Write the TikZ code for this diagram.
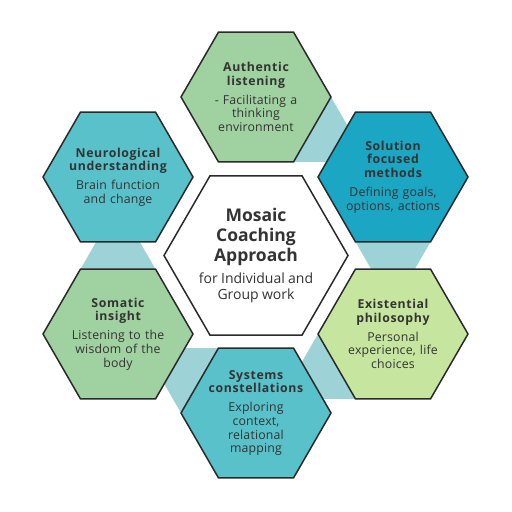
\documentclass[tikz,border=0pt]{standalone}
\usepackage{fontspec}
\setmainfont{Open Sans}
\newfontfamily\titlefont[LetterSpace=5]{Open Sans}
\newfontfamily\bodyfont[LetterSpace=1.5]{Open Sans}
\definecolor{hexborder}{HTML}{2A2A2A}
\definecolor{connteal}{HTML}{9DD3D6}
\definecolor{hgreen}{HTML}{A0D1A0}
\definecolor{hcyan}{HTML}{1BA6C4}
\definecolor{hlime}{HTML}{C6E6A0}
\definecolor{hteal}{HTML}{58C1CA}
\definecolor{txtcol}{HTML}{333333}
\newcommand\hexat[3]{\draw[hexline, fill=#3] (#1) +(0:#2) -- +(60:#2) -- +(120:#2) -- +(180:#2) -- +(240:#2) -- +(300:#2) -- cycle;}
\newcommand\hextitle[1]{{\titlefont\bfseries #1}}
\begin{document}
\begin{tikzpicture}[x=1pt,y=1pt,
  hexline/.style={draw=hexborder, line width=1.5pt, line join=miter},
  conn/.style={fill=connteal},
  txt/.style={text=txtcol, align=center, text width=130pt, font=\bodyfont\fontsize{12.3}{13.6}\selectfont, inner sep=0pt}]
\useasboundingbox (0,0) rectangle (512,512);
\coordinate (top) at (256,415);
\coordinate (ur) at (393,335);
\coordinate (lr) at (393,178);
\coordinate (bot) at (256,99);
\coordinate (ll) at (118,178);
\coordinate (ul) at (118,335);
\coordinate (cen) at (256,256.5);
% connectors
\fill[conn] (top) +(300:75) -- +(0:75) -- +(330:129.9) -- cycle;
\fill[conn] (ur) +(240:75) -- +(300:75) -- +(270:129.9) -- cycle;
\fill[conn] (lr) +(180:75) -- +(240:75) -- +(210:129.9) -- cycle;
\fill[conn] (bot) +(120:75) -- +(180:75) -- +(150:129.9) -- cycle;
\fill[conn] (ll) +(60:75) -- +(120:75) -- +(90:129.9) -- cycle;
% hexagons
\hexat{top}{75}{hgreen}
\hexat{ur}{75}{hcyan}
\hexat{lr}{75}{hlime}
\hexat{bot}{75}{hteal}
\hexat{ll}{75}{hgreen}
\hexat{ul}{75}{hteal}
\hexat{cen}{92}{white}
% texts
\node[txt] (ttop) at (top) {\hextitle{Authentic\\listening}\\[5.5pt]- Facilitating a\\thinking\\environment};
\node[txt] (tur) at (ur) {\hextitle{Solution\\focused\\methods}\\[5.5pt]Defining goals,\\options, actions};
\node[txt] (tlr) at (lr) {\hextitle{Existential\\philosophy}\\[5.5pt]Personal\\experience, life\\choices};
\node[txt] (tbot) at (bot) {\hextitle{Systems\\constellations}\\[5.5pt]Exploring\\context,\\relational\\mapping};
\node[txt] (tll) at (ll) {\hextitle{Somatic\\insight}\\[5.5pt]Listening to the\\wisdom of the\\body};
\node[txt] (tul) at (ul) {\hextitle{Neurological\\understanding}\\[5.5pt]Brain function\\and change};
\node[txt, text width=170pt, font=\rmfamily] (tcen) at (cen) {{\fontsize{17.5}{20}\selectfont\bfseries Mosaic\\Coaching\\Approach\par}\vspace{6pt}{\fontsize{14}{16}\selectfont for Individual and\\Group work\par}};
\end{tikzpicture}
\end{document}
